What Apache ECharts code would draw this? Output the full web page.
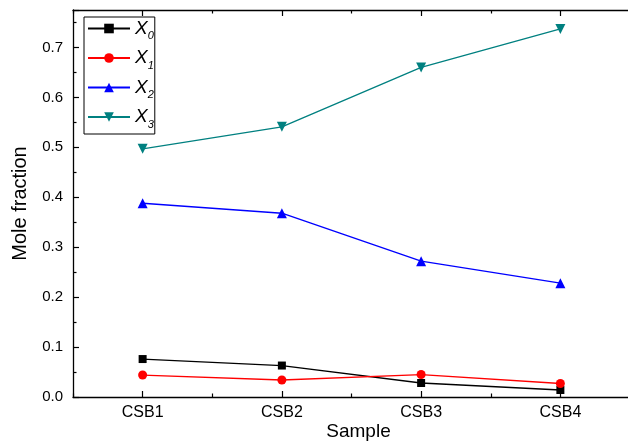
<!DOCTYPE html>
<html>
<head>
<meta charset="utf-8">
<script src="https://cdn.jsdelivr.net/npm/echarts@6/dist/echarts.min.js"></script>
<style>
  html, body { margin: 0; padding: 0; background: #fff; }
  #chart { width: 628px; height: 442px; }
</style>
</head>
<body>
<div id="chart"></div>
<script>
// values
const samples = ['CSB1', 'CSB2', 'CSB3', 'CSB4']
const x0 = [0.076, 0.063, 0.028, 0.014]
const x1 = [0.044, 0.034, 0.045, 0.027]
const x2 = [0.388, 0.368, 0.272, 0.228]
const x3 = [0.497, 0.541, 0.660, 0.737]
const yTicks = [0, 0.1, 0.2, 0.3, 0.4, 0.5, 0.6, 0.7]

const font = 'Liberation Sans, Arial, sans-serif'
const axisLine = { show: true, lineStyle: { color: '#000', width: 1.3 } }

function mkSeries(name, data, color, symbol, size, extra) {
    return Object.assign({
        name: name,
        type: 'line',
        data: data,
        symbol: symbol,
        symbolSize: size,
        itemStyle: { color: color },
        lineStyle: { color: color, width: 1.3 },
        emphasis: { disabled: true },
        animation: false
    }, extra || {})
}

const chart = echarts.init(document.getElementById('chart'))
chart.setOption({
    backgroundColor: '#fff',
    textStyle: { fontFamily: font },
    grid: { left: 73, top: 10, right: -2, bottom: 45, outerBoundsMode: 'none', containLabel: false },
    legend: {
        orient: 'vertical',
        left: 84,
        top: 17,
        padding: [2, 1, 4, 3],
        itemGap: 7,
        itemWidth: 42,
        itemHeight: 12,
        borderColor: '#000',
        borderWidth: 1,
        borderRadius: 0,
        formatter: name => '{x|X}{s|' + name.slice(1) + '}',
        textStyle: {
            rich: {
                x: { fontSize: 19, fontStyle: 'italic', fontFamily: font, color: '#000', lineHeight: 22 },
                s: { fontSize: 11, fontStyle: 'italic', fontFamily: font, color: '#000', verticalAlign: 'bottom', padding: [15, 0, 0, 0] }
            }
        }
    },
    xAxis: [
        {
            type: 'category', data: samples, position: 'bottom',
            boundaryGap: true,
            name: 'Sample', nameLocation: 'middle', nameGap: 25, nameMoveOverlap: false,
            nameTextStyle: { fontSize: 19, color: '#000', fontFamily: font, padding: [0, 0, 0, 14] },
            axisLine: axisLine,
            axisTick: { show: true, alignWithLabel: true, inside: true, length: 6, lineStyle: { color: '#000', width: 1.2 } },
            axisLabel: { fontSize: 16, color: '#000', margin: 8, fontFamily: font },
            splitLine: { show: false }
        },
        {
            // short ticks between the samples
            type: 'category', data: samples, position: 'bottom',
            axisLine: { show: false },
            axisTick: { show: true, inside: true, length: 3.5, lineStyle: { color: '#000', width: 1.2 } },
            axisLabel: { show: false },
            splitLine: { show: false }
        },
        {
            type: 'category', data: samples, position: 'top',
            axisLine: axisLine,
            axisTick: { show: true, alignWithLabel: true, inside: true, length: 6, lineStyle: { color: '#000', width: 1.2 } },
            axisLabel: { show: false },
            splitLine: { show: false }
        },
        {
            type: 'category', data: samples, position: 'top',
            axisLine: { show: false },
            axisTick: { show: true, inside: true, length: 3.5, lineStyle: { color: '#000', width: 1.2 } },
            axisLabel: { show: false },
            splitLine: { show: false }
        }
    ],
    yAxis: [
        {
            type: 'value', min: 0, max: 0.775, interval: 0.1,
            name: 'Mole fraction', nameLocation: 'middle', nameGap: 43, nameMoveOverlap: false,
            nameTextStyle: { fontSize: 20, color: '#000', fontFamily: font },
            axisLine: axisLine,
            axisTick: { show: true, inside: true, length: 6, lineStyle: { color: '#000', width: 1.2 } },
            minorTick: { show: true, splitNumber: 2, length: 3.5, lineStyle: { color: '#000', width: 1.2 } },
            axisLabel: {
                fontSize: 15, color: '#000', margin: 10, fontFamily: font,
                showMaxLabel: false,
                formatter: v => yTicks.some(t => Math.abs(t - v) < 1e-6) ? v.toFixed(1) : ''
            },
            splitLine: { show: false },
            minorSplitLine: { show: false }
        }
    ],
    series: [
        mkSeries('X0', x0, '#000000', 'rect', 8),
        mkSeries('X1', x1, '#ff0000', 'circle', 9),
        mkSeries('X2', x2, '#0000ff', 'triangle', 10),
        mkSeries('X3', x3, '#008080', 'triangle', 10, { symbolRotate: 180 })
    ]
})
</script>
</body>
</html>
